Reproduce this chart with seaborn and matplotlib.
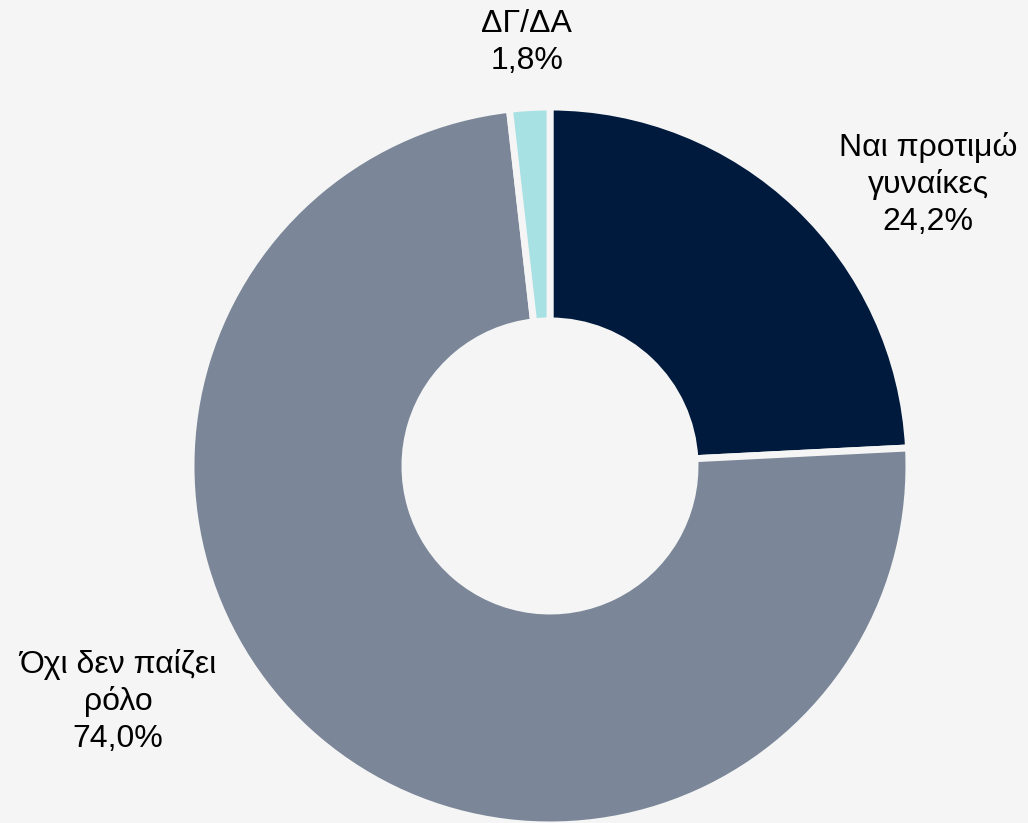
"""
Donut chart – preference for women (Greek survey)
"""
import matplotlib
matplotlib.use("Agg")
import matplotlib.pyplot as plt
import seaborn as sns

# ── data ─────────────────────────────────────────────────────────────────────
labels = ["Ναι προτιμώ\nγυναίκες", "Όχι δεν παίζει\nρόλο", "ΔΓ/ΔΑ"]
values = [24.2, 74.0, 1.8]

# ── palette ──────────────────────────────────────────────────────────────────
COLORS = ["#001a3d", "#7b8799", "#a8e1e3"]
BG     = "#f5f5f5"

sns.set_theme(style="white")
plt.rcParams["font.family"] = ["Liberation Sans", "DejaVu Sans"]

fig = plt.figure(figsize=(10.28, 8.23), dpi=100, facecolor=BG)
ax = fig.add_axes([0.1858, -0.0024, 0.6984, 0.8724])
ax.set_facecolor(BG)

wedges, _ = ax.pie(values, colors=COLORS, startangle=90, counterclock=False,
                   radius=1.0,
                   wedgeprops=dict(width=0.596, edgecolor=BG, linewidth=5))
ax.set_xlim(-1, 1)
ax.set_ylim(-1, 1)
ax.set_aspect("equal")
ax.axis("off")

# label positions in data coords (radius units)
label_pos = [(1.053, 0.785), (-1.203, -0.655), (-0.065, 1.18)]
for lab, val, (x, y) in zip(labels, values, label_pos):
    txt = f"{lab}\n{val:.1f}%".replace(".", ",")
    ax.text(x, y, txt, ha="center", va="center", fontsize=23,
            color="#000000", linespacing=1.28, clip_on=False)

plt.savefig("out.png", dpi=100, facecolor=BG)
plt.close()
